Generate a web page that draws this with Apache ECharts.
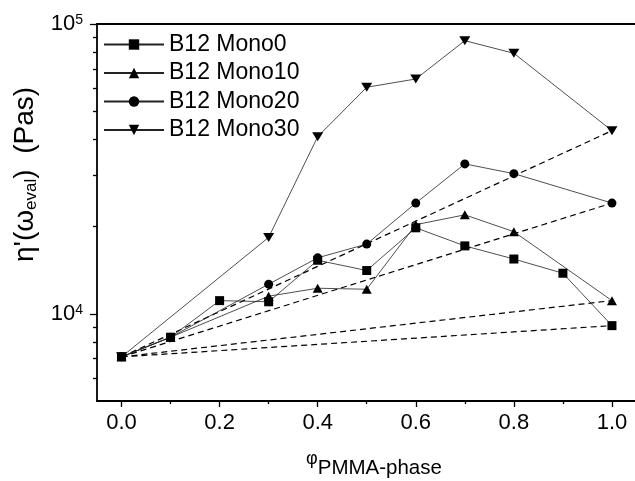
<!DOCTYPE html>
<html><head><meta charset="utf-8">
<script src="https://cdn.jsdelivr.net/npm/echarts@6/dist/echarts.min.js"></script>
<style>html,body{margin:0;padding:0;background:#fff}#c{width:635px;height:481px}</style>
</head><body><div id="c"></div>
<script>
const seriesNames = ['B12 Mono0', 'B12 Mono10', 'B12 Mono20', 'B12 Mono30'];
const phiMono0  = [0, 0.1, 0.2, 0.3, 0.4, 0.5, 0.6, 0.7, 0.8, 0.9, 1.0];
const etaMono0  = [7100, 8300, 11100, 11000, 15300, 14100, 19800, 17150, 15450, 13800, 9100];
const phiMono10 = [0, 0.1, 0.3, 0.4, 0.5, 0.6, 0.7, 0.8, 1.0];
const etaMono10 = [7100, 8300, 11500, 12250, 12150, 20300, 21950, 19200, 11100];
const phiMono20 = [0, 0.1, 0.3, 0.4, 0.5, 0.6, 0.7, 0.8, 1.0];
const etaMono20 = [7100, 8300, 12650, 15600, 17400, 24100, 32900, 30450, 24100];
const phiMono30 = [0, 0.3, 0.4, 0.5, 0.6, 0.7, 0.8, 1.0];
const etaMono30 = [7100, 18350, 40850, 60500, 64600, 87600, 79250, 42850];
const xMajorTicks = [0, 0.2, 0.4, 0.6, 0.8, 1.0];
const xMinorTicks = [0.1, 0.3, 0.5, 0.7, 0.9];
const yMajorTicks = [10000, 100000];
const yMinorTicks = [6000, 7000, 8000, 9000, 20000, 30000, 40000, 50000, 60000, 70000, 80000, 90000];

const FONT = 'Liberation Sans, Arial, sans-serif';
const X_MIN = -0.05, X_MAX = 1.1, Y_MIN = 5000, Y_MAX = 100000;
const symbols = ['rect', 'triangle', 'circle', 'path://M0,0 L10,0 L5,9 Z'];
const symbolSizes = [9, [10, 9], 9, [11, 9]];
const phis = [phiMono0, phiMono10, phiMono20, phiMono30];
const etas = [etaMono0, etaMono10, etaMono20, etaMono30];

const zip = (xs, ys) => xs.map((x, i) => [x, ys[i]]);
const series = [];
phis.forEach((xs, k) => {
  const ys = etas[k];
  series.push({
    name: seriesNames[k] + ' mix', type: 'line', symbol: 'none', silent: true, z: 1,
    lineStyle: {color: '#000', width: 1.2, type: [6, 4]},
    data: [[xs[0], ys[0]], [xs[xs.length - 1], ys[ys.length - 1]]]
  });
});
phis.forEach((xs, k) => {
  series.push({
    name: seriesNames[k], type: 'line', z: 3,
    symbol: symbols[k], symbolSize: symbolSizes[k], symbolKeepAspect: false,
    itemStyle: {color: '#000'},
    lineStyle: {color: '#222', width: 0.8},
    data: zip(xs, etas[k])
  });
});

const axisLineStyle = {color: '#000', width: 1.8};
const chart = echarts.init(document.getElementById('c'), null, {renderer: 'canvas'});
chart.setOption({
  animation: false,
  backgroundColor: '#fff',
  grid: {left: 97, right: -26, top: 24, bottom: 80, containLabel: false, outerBoundsMode: 'none'},
  legend: {
    data: seriesNames, orient: 'vertical', left: 103, top: 33, padding: 0,
    itemWidth: 60, itemHeight: 13, itemGap: 5.5,
    textStyle: {fontSize: 23, fontFamily: FONT, color: '#000'}
  },
  xAxis: [
    {
      type: 'value', position: 'bottom', min: X_MIN, max: X_MAX,
      axisLine: {show: true, onZero: false, lineStyle: axisLineStyle},
      axisTick: {show: true, inside: false, length: 6, customValues: xMajorTicks, lineStyle: {color: '#000', width: 1.3}},
      axisLabel: {customValues: xMajorTicks, formatter: v => v.toFixed(1), fontSize: 22, fontFamily: FONT, color: '#000', margin: 11},
      splitLine: {show: false},
      name: '{phi|φ}{sub|PMMA-phase}', nameLocation: 'middle', nameGap: 49,
      nameTextStyle: {
        fontFamily: FONT, color: '#000', padding: [0, 10, 0, 0],
        rich: {
          phi: {fontSize: 18, fontFamily: FONT, color: '#000', lineHeight: 10, verticalAlign: 'top'},
          sub: {fontSize: 20.5, fontFamily: FONT, color: '#000', lineHeight: 36}
        }
      }
    },
    {
      type: 'value', position: 'bottom', min: X_MIN, max: X_MAX,
      axisLine: {show: false, onZero: false},
      axisTick: {show: true, inside: false, length: 3, customValues: xMinorTicks, lineStyle: {color: '#000', width: 1.3}},
      axisLabel: {show: false}, splitLine: {show: false}
    },
    {
      type: 'value', position: 'top', min: X_MIN, max: X_MAX,
      axisLine: {show: true, onZero: false, lineStyle: axisLineStyle},
      axisTick: {show: false}, axisLabel: {show: false}, splitLine: {show: false}
    }
  ],
  yAxis: [
    {
      type: 'log', logBase: 10, position: 'left', min: Y_MIN, max: Y_MAX,
      axisLine: {show: true, onZero: false, lineStyle: axisLineStyle},
      axisTick: {show: true, inside: false, length: 7, customValues: yMajorTicks, lineStyle: {color: '#000', width: 1.3}},
      axisLabel: {
        customValues: yMajorTicks, margin: 14,
        formatter: v => '{b|10}{s|' + Math.round(Math.log10(v)) + '}',
        rich: {
          b: {fontSize: 22, fontFamily: FONT, color: '#000', lineHeight: 22},
          s: {fontSize: 14, fontFamily: FONT, color: '#000', lineHeight: 12, verticalAlign: 'top'}
        }
      },
      splitLine: {show: false},
      name: "{m|η'(ω}{sub|eval}{m|)  (Pas)}", nameLocation: 'middle', nameGap: 53,
      nameTextStyle: {
        fontFamily: FONT, color: '#000', padding: [0, 0, 0, 76],
        rich: {
          m: {fontSize: 28, fontFamily: FONT, color: '#000', lineHeight: 30},
          sub: {fontSize: 17, fontFamily: FONT, color: '#000', lineHeight: 18, verticalAlign: 'bottom'}
        }
      }
    },
    {
      type: 'log', logBase: 10, position: 'left', min: Y_MIN, max: Y_MAX,
      axisLine: {show: false, onZero: false},
      axisTick: {show: true, inside: false, length: 4, customValues: yMinorTicks, lineStyle: {color: '#000', width: 1.3}},
      axisLabel: {show: false}, splitLine: {show: false}
    }
  ],
  series: series
});
</script>
</body></html>
